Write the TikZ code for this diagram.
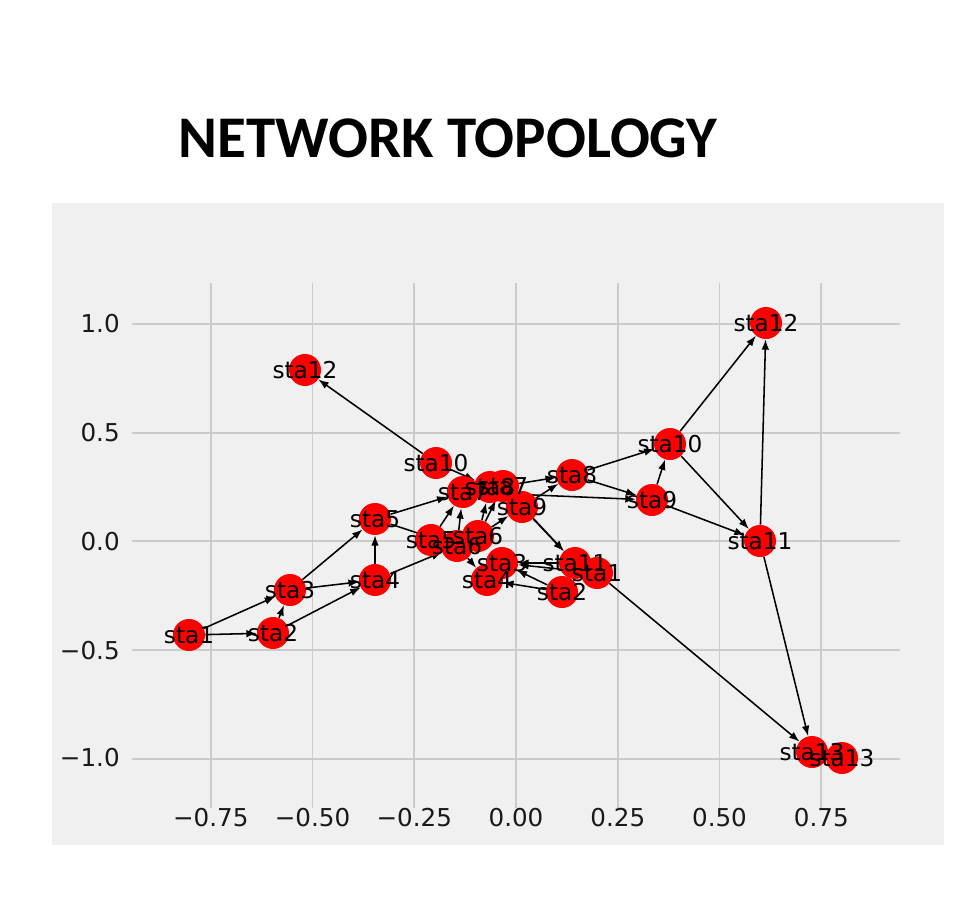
\documentclass[tikz,border=0pt]{standalone}
\usepackage{fontspec}
\setmainfont{DejaVu Sans}
\newfontfamily\titlefont{Carlito}
\usetikzlibrary{arrows.meta}
\pgfdeclarelayer{bg}
\pgfdeclarelayer{edges}
\pgfsetlayers{bg,edges,main}
\definecolor{panel}{HTML}{F0F0F0}
\definecolor{gridc}{HTML}{CBCBCB}
\begin{document}
\begin{tikzpicture}[x=0.25mm,y=-0.25mm,
  stn/.style={circle,fill=red,minimum size=8mm,inner sep=0pt},
  lbl/.style={font=\fontsize{16.5}{16}\selectfont,inner sep=0pt,text=black},
  tick/.style={font=\fontsize{17.5}{18}\selectfont,inner sep=0pt,text=black!90},
  gridline/.style={draw=gridc,line width=1.4pt},
  link/.style={-{Latex[length=2.6mm,width=1.9mm]},line width=1.1pt,black}
]
\useasboundingbox (0,0) rectangle (979,922);
\begin{pgfonlayer}{bg}
\fill[white] (0,0) rectangle (979,922);
\fill[panel] (52,203) rectangle (944,845);
\foreach \v in {-0.75,-0.5,-0.25,0,0.25,0.5,0.75}
  \draw[gridline] ({516+407*\v},283) -- ({516+407*\v},808);
\foreach \v in {1,0.5,0,-0.5,-1}
  \draw[gridline] (132,{541.4-217.3*\v}) -- (900,{541.4-217.3*\v});
\end{pgfonlayer}
% tick labels
\node[tick,anchor=east] (y1) at (120,323.6) {1.0};
\node[tick,anchor=east] (y2) at (120,432.5) {0.5};
\node[tick,anchor=east] (y3) at (120,541.4) {0.0};
\node[tick,anchor=east] (y4) at (120,650.7) {−0.5};
\node[tick,anchor=east] (y5) at (120,757.9) {−1.0};
\node[tick] (x1) at (210.8,818) {−0.75};
\node[tick] (x2) at (312.5,818) {−0.50};
\node[tick] (x3) at (414.3,818) {−0.25};
\node[tick] (x4) at (516,818) {0.00};
\node[tick] (x5) at (617.8,818) {0.25};
\node[tick] (x6) at (719.5,818) {0.50};
\node[tick] (x7) at (821.3,818) {0.75};
% title
\node[font=\titlefont\bfseries\fontsize{42}{42}\selectfont,inner sep=0pt] (title) at (448,138) {NETWORK TOPOLOGY};
% nodes, graph A
\node[stn] (a1) at (189,635) {};
\node[stn] (a2) at (273,633) {};
\node[stn] (a3) at (290,590) {};
\node[stn] (a4) at (375,580) {};
\node[stn] (a5) at (375,519) {};
\node[stn] (a6) at (457,546) {};
\node[stn] (a7) at (463,492) {};
\node[stn] (a8) at (572,475) {};
\node[stn] (a9) at (652,500) {};
\node[stn] (a10) at (670,444) {};
\node[stn] (a11) at (760,541) {};
\node[stn] (a12) at (766,323) {};
\node[stn] (a13) at (812,752) {};
% nodes, graph B
\node[stn] (b1) at (597,573) {};
\node[stn] (b2) at (562,592) {};
\node[stn] (b3) at (502,563) {};
\node[stn] (b4) at (487,580) {};
\node[stn] (b5) at (431,540) {};
\node[stn] (b6) at (478,536) {};
\node[stn] (b8) at (490,487) {};
\node[stn] (b7) at (503,486) {};
\node[stn] (b9) at (522,507) {};
\node[stn] (b10) at (436,463) {};
\node[stn] (b11) at (575,563) {};
\node[stn] (b12) at (305,370) {};
\node[stn] (b13) at (842,758) {};
% edges
\begin{pgfonlayer}{edges}
\foreach \s/\t in {a1/a2,a1/a3,a2/a3,a2/a4,a3/a4,a3/a5,a4/a5,a4/a6,a5/a6,a5/a7,a6/a7,a7/a9,a8/a9,a8/a10,a9/a10,a9/a11,a10/a11,a10/a12,a11/a12,a11/a13,
  b10/b12,b10/b8,b5/a7,b6/b8,b6/b7,b6/b9,b7/a8,b9/a8,b7/b11,b9/b11,b11/b3,b1/b3,b2/b3,b2/b4,a6/b4,b1/a13}
  \draw[link] (\s) -- (\t);
\end{pgfonlayer}
% labels
\foreach \n/\t in {a1/sta1,a2/sta2,a3/sta3,a4/sta4,a5/sta5,a6/sta6,a7/sta7,a8/sta8,a9/sta9,a10/sta10,a11/sta11,a12/sta12,a13/sta13,
  b1/sta1,b2/sta2,b3/sta3,b4/sta4,b5/sta5,b6/sta6,b8/sta8,b7/sta7,b9/sta9,b10/sta10,b11/sta11,b12/sta12,b13/sta13}
  \node[lbl] (\n t) at (\n) {\t};
\end{tikzpicture}
\end{document}
